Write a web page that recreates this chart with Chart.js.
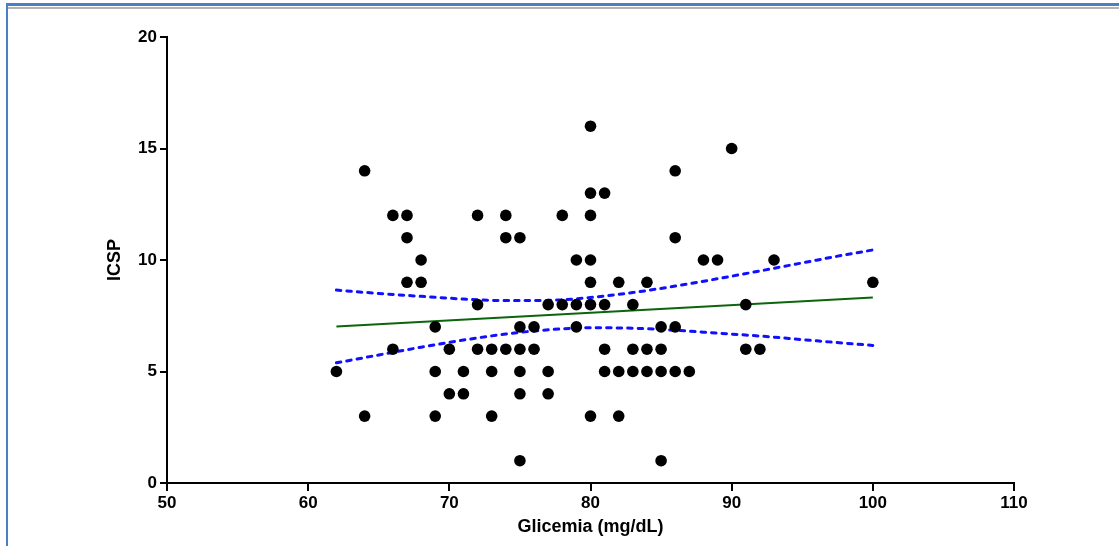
<!DOCTYPE html>
<html>
<head>
<meta charset="utf-8">
<script src="https://cdn.jsdelivr.net/npm/chart.js@4/dist/chart.umd.min.js"></script>
<style>
  body { margin: 0; background: #fff; }
  #wrap { position: relative; width: 1119px; height: 546px; overflow: hidden; }
  #frameTop { position: absolute; left: 6px; top: 3px; width: 1113px; height: 3px; background: #4a7fc1; }
  #frameGray { position: absolute; left: 8px; top: 7px; width: 1111px; height: 2px; background: #b4b4b4; }
  #frameLeft { position: absolute; left: 6px; top: 3px; width: 2px; height: 543px; background: #4a7fc1; }
  canvas { position: absolute; left: 0; top: 0; }
</style>
</head>
<body>
<div id="wrap">
  <div id="frameTop"></div>
  <div id="frameGray"></div>
  <div id="frameLeft"></div>
  <canvas id="chart" width="1119" height="546"></canvas>
</div>
<script>
// observations (glicemia mg/dL, ICSP)
const glicemia = [62, 64, 64, 66, 66, 67, 67, 67, 68, 68, 69, 69, 69, 70, 70, 71, 71,
  72, 72, 72, 73, 73, 73, 74, 74, 74, 75, 75, 75, 75, 75, 75, 76, 76, 77, 77, 77,
  78, 78, 79, 79, 79, 80, 80, 80, 80, 80, 80, 80, 81, 81, 81, 81, 82, 82, 82,
  83, 83, 83, 84, 84, 84, 85, 85, 85, 85, 86, 86, 86, 86, 87, 88, 89, 90, 91, 91,
  92, 93, 100];
const icsp = [5, 14, 3, 12, 6, 12, 11, 9, 10, 9, 7, 5, 3, 6, 4, 5, 4,
  12, 8, 6, 6, 5, 3, 12, 11, 6, 11, 7, 6, 5, 4, 1, 7, 6, 8, 5, 4,
  12, 8, 10, 8, 7, 16, 13, 12, 10, 9, 8, 3, 13, 8, 6, 5, 9, 5, 3,
  8, 6, 5, 9, 6, 5, 7, 6, 5, 1, 14, 11, 7, 5, 5, 10, 10, 15, 8, 6,
  6, 10, 9];

// regression line ends
const fitX = [62, 100];
const fitY = [7.02, 8.32];

// 95% confidence band
const bandX = [62, 65, 68, 71, 74, 77, 80, 83, 86, 89, 92, 95, 98, 100];
const bandUpper = [8.65, 8.50, 8.37, 8.25, 8.18, 8.19, 8.32, 8.54, 8.83, 9.16, 9.51, 9.87, 10.23, 10.45];
const bandLower = [5.39, 5.74, 6.09, 6.41, 6.68, 6.87, 6.96, 6.94, 6.85, 6.72, 6.59, 6.43, 6.27, 6.17];

const xTicks = [50, 60, 70, 80, 90, 100, 110];
const yTicks = [0, 5, 10, 15, 20];

function pairs(xs, ys) {
  return xs.map((x, i) => ({ x: x, y: ys[i] }));
}

const tickFont = { family: "'Liberation Sans', Arial, sans-serif", size: 17, weight: 'bold' };
const titleFont = { family: "'Liberation Sans', Arial, sans-serif", size: 18, weight: 'bold' };

new Chart(document.getElementById('chart'), {
  type: 'scatter',
  data: {
    datasets: [
      {
        data: pairs(glicemia, icsp),
        pointRadius: 5.8,
        pointBackgroundColor: '#000',
        pointBorderWidth: 0,
        showLine: false
      },
      {
        data: pairs(fitX, fitY),
        showLine: true,
        borderColor: '#0b660b',
        borderWidth: 2,
        pointRadius: 0
      },
      {
        data: pairs(bandX, bandUpper),
        showLine: true,
        borderColor: '#1010ff',
        borderWidth: 3,
        borderDash: [4.5, 6],
        borderCapStyle: 'round',
        cubicInterpolationMode: 'monotone',
        pointRadius: 0
      },
      {
        data: pairs(bandX, bandLower),
        showLine: true,
        borderColor: '#1010ff',
        borderWidth: 3,
        borderDash: [4.5, 6],
        borderCapStyle: 'round',
        cubicInterpolationMode: 'monotone',
        pointRadius: 0
      }
    ]
  },
  options: {
    responsive: false,
    animation: false,
    layout: { padding: { top: 37, right: 105, bottom: 0, left: 0 } },
    plugins: { legend: { display: false }, tooltip: { enabled: false } },
    scales: {
      x: {
        type: 'linear',
        min: 50,
        max: 110,
        afterBuildTicks: s => { s.ticks = xTicks.map(v => ({ value: v })); },
        afterFit: s => { s.height = 63; },
        ticks: { color: '#000', font: tickFont, padding: 2, maxRotation: 0 },
        grid: { drawOnChartArea: false, drawTicks: true, tickLength: 8, color: '#000', lineWidth: 2 },
        border: { display: true, color: '#000', width: 2 },
        title: { display: true, text: 'Glicemia (mg/dL)', color: '#000', font: titleFont, padding: { top: 0, bottom: 8 } }
      },
      y: {
        type: 'linear',
        min: 0,
        max: 20,
        afterBuildTicks: s => { s.ticks = yTicks.map(v => ({ value: v })); },
        afterFit: s => { s.width = 167; },
        ticks: { color: '#000', font: tickFont, padding: 3 },
        grid: { drawOnChartArea: false, drawTicks: true, tickLength: 7, color: '#000', lineWidth: 2 },
        border: { display: true, color: '#000', width: 2 },
        title: { display: true, text: 'ICSP', color: '#000', font: titleFont, padding: { top: 104, bottom: 0 } }
      }
    }
  }
});
</script>
</body>
</html>
